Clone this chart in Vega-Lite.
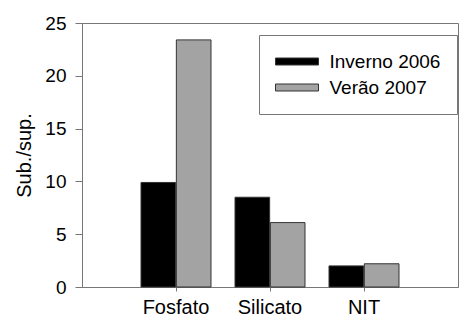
{
  "$schema": "https://vega.github.io/schema/vega-lite/v6.json",
  "width": 376,
  "height": 264,
  "autosize": {"type": "none"},
  "padding": {"left": 82, "top": 23, "right": 1, "bottom": 31},
  "background": "white",
  "config": {
    "font": "Liberation Sans",
    "view": {"stroke": "#777777", "strokeWidth": 1}
  },
  "data": {
    "values": [
      {"cat": "Fosfato", "serie": "Inverno 2006", "v": 9.9},
      {"cat": "Fosfato", "serie": "Verão 2007", "v": 23.4},
      {"cat": "Silicato", "serie": "Inverno 2006", "v": 8.5},
      {"cat": "Silicato", "serie": "Verão 2007", "v": 6.1},
      {"cat": "NIT", "serie": "Inverno 2006", "v": 2.0},
      {"cat": "NIT", "serie": "Verão 2007", "v": 2.2}
    ]
  },
  "mark": {"type": "bar", "stroke": "#333333", "strokeWidth": 1},
  "encoding": {
    "x": {
      "field": "cat",
      "type": "nominal",
      "sort": ["Fosfato", "Silicato", "NIT"],
      "scale": {"paddingInner": 0, "paddingOuter": 0.5},
      "axis": {
        "title": null,
        "labelAngle": 0,
        "labelFontSize": 20,
        "labelColor": "#000000",
        "labelPadding": 6,
        "tickSize": 4,
        "tickColor": "#777777",
        "domainColor": "#777777",
        "grid": false
      }
    },
    "xOffset": {
      "field": "serie",
      "type": "nominal",
      "scale": {"paddingInner": 0.02, "paddingOuter": 0.34}
    },
    "y": {
      "field": "v",
      "type": "quantitative",
      "scale": {"domain": [0, 25], "nice": false},
      "axis": {
        "title": "Sub./sup.",
        "titleFontSize": 20,
        "titleFontWeight": "normal",
        "titleColor": "#000000",
        "titlePadding": 10,
        "values": [0, 5, 10, 15, 20, 25],
        "labelFontSize": 19,
        "labelColor": "#000000",
        "labelPadding": 9,
        "tickSize": 7,
        "tickColor": "#777777",
        "domainColor": "#777777",
        "grid": false
      }
    },
    "color": {
      "field": "serie",
      "type": "nominal",
      "scale": {"domain": ["Inverno 2006", "Verão 2007"], "range": ["#000000", "#A3A3A3"]},
      "legend": {
        "title": " ",
        "titleOrient": "bottom",
        "titleFontSize": 1,
        "titlePadding": -2,
        "orient": "none",
        "legendX": 177,
        "legendY": 12,
        "direction": "vertical",
        "strokeColor": "#777777",
        "fillColor": "white",
        "padding": 16,
        "rowPadding": 5,
        "labelFontSize": 19,
        "labelColor": "#000000",
        "labelOffset": 22,
        "symbolOffset": 11.5,
        "symbolType": "M-2.15,-0.35L2.15,-0.35L2.15,0.35L-2.15,0.35Z",
        "symbolSize": 400,
        "symbolStrokeColor": "#333333",
        "symbolStrokeWidth": 1,
        "symbolOpacity": 1
      }
    }
  }
}
